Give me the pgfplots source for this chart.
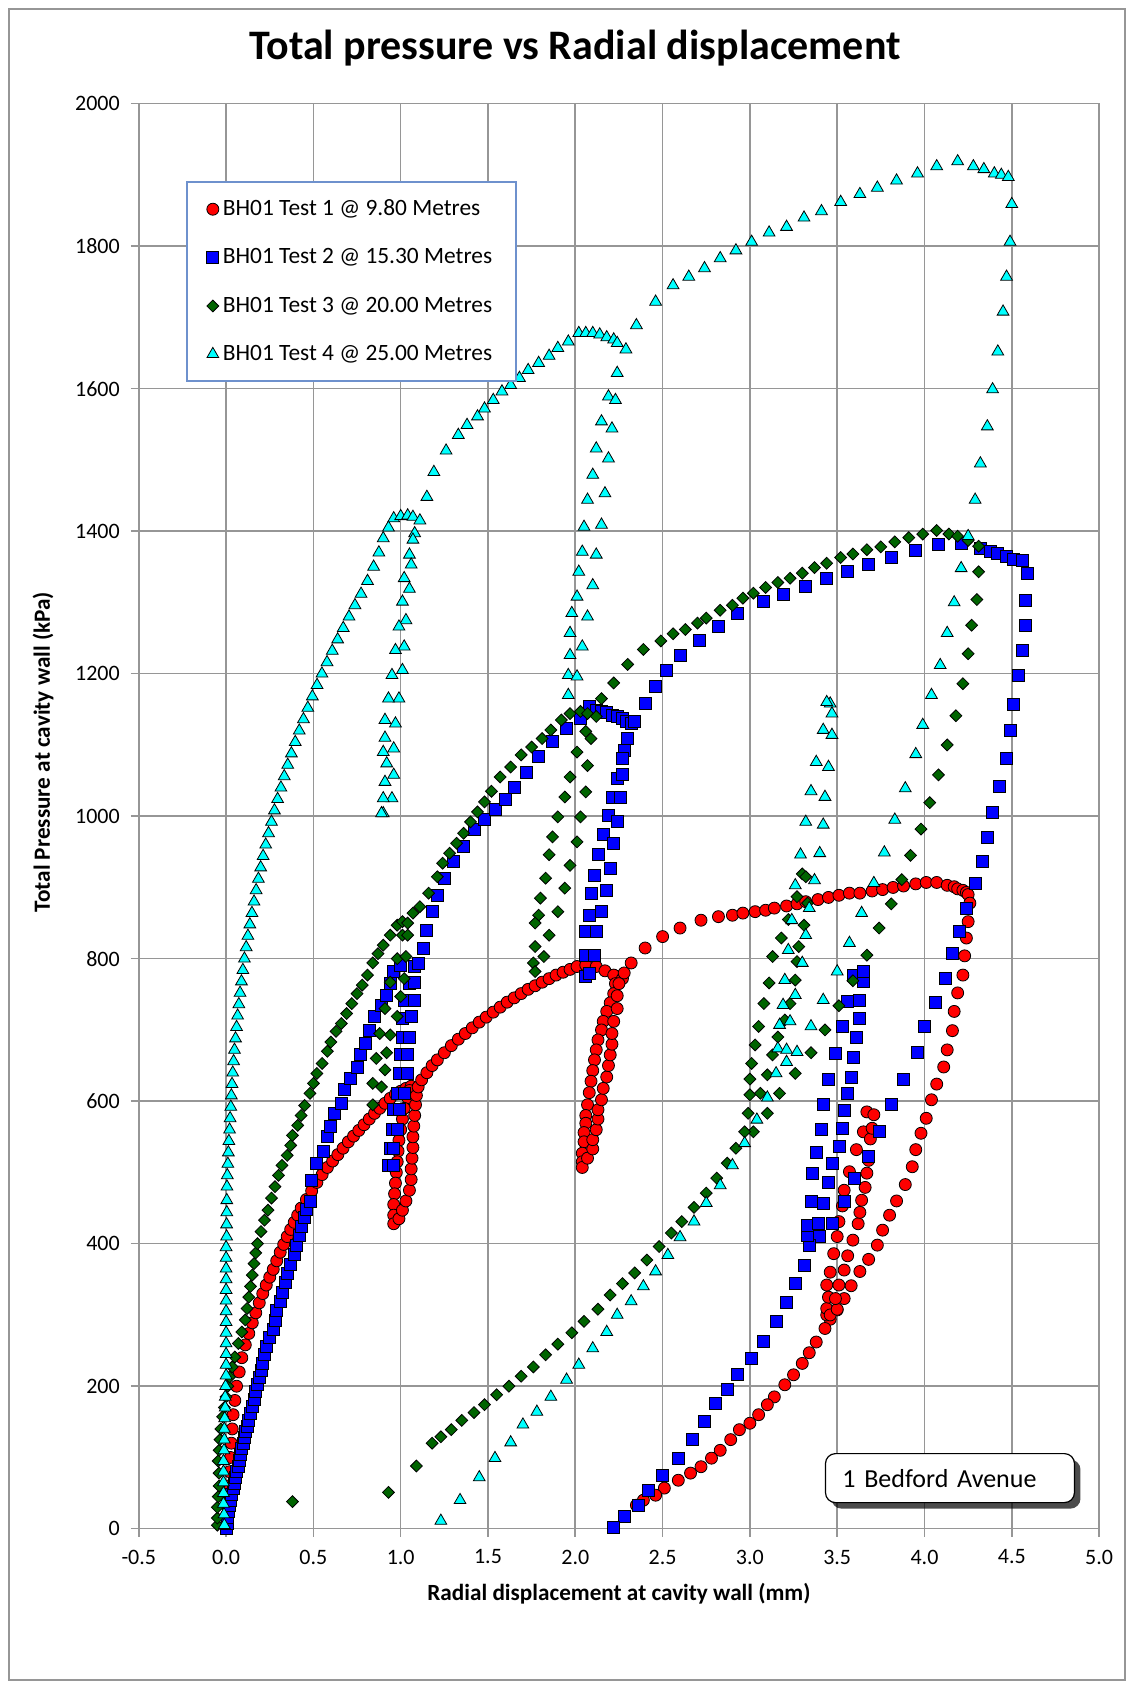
\documentclass[border=0pt]{standalone}
\usepackage{pgfplots}
\pgfplotsset{compat=1.18}
\usepackage{fontspec}
\setmainfont{Carlito}
\usetikzlibrary{shadows}
\definecolor{cyanA}{RGB}{0,255,255}
\definecolor{greenA}{RGB}{0,100,0}
\definecolor{gridgray}{RGB}{150,150,150}
\definecolor{legblue}{RGB}{110,145,205}
\begin{document}
\begin{tikzpicture}
\path (0pt,0pt) rectangle (566.5pt,844pt);
\draw[gridgray, line width=1pt] (4.5pt,4pt) rectangle (562.5pt,839.5pt);
\node[font=\fontsize{21}{25}\selectfont\bfseries] at (287.5pt,820pt) {Total pressure vs Radial displacement};
\begin{axis}[
  at={(69.4pt,79.65pt)}, anchor=south west,
  scale only axis, width=480.15pt, height=712.5pt,
  xmin=-0.5, xmax=5, ymin=0, ymax=2000,
  clip=false,
  xtick={-0.5,0,0.5,1,1.5,2,2.5,3,3.5,4,4.5,5},
  xticklabels={-0.5,0.0,0.5,1.0,1.5,2.0,2.5,3.0,3.5,4.0,4.5,5.0},
  ytick={0,200,400,600,800,1000,1200,1400,1600,1800,2000},
  yticklabels={0,200,400,600,800,1000,1200,1400,1600,1800,2000},
  grid=major,
  grid style={gridgray, line width=0.8pt},
  axis line style={gridgray, line width=0.8pt},
  tick style={gridgray, line width=0.8pt},
  tick align=outside, tick pos=left, major tick length=4pt,
  ticklabel style={font=\fontsize{11}{13}\selectfont},
  yticklabel style={xshift=-2pt},
  xticklabel style={yshift=-3pt},
  xlabel={Radial displacement at cavity wall (mm)},
  ylabel={Total Pressure at cavity wall (kPa)},
  label style={font=\fontsize{11.6}{13}\selectfont\bfseries},
  xlabel style={at={(axis description cs:0.5,-0.0459)}, anchor=center},
  ylabel style={at={(axis description cs:-0.0998,0.545)}, anchor=center},
  legend style={at={(axis description cs:0.0492,0.9458)}, anchor=north west,
    draw=legblue, line width=0.8pt, font=\fontsize{11.7}{14}\selectfont,
    row sep=11pt, inner xsep=10pt, inner ysep=7pt, cells={anchor=west}},
  legend image code/.code={\draw[mark repeat=2,mark phase=2,#1] plot coordinates {(0cm,0cm) (0.12cm,0cm) (0.24cm,0cm)};},
]
% Test 1
\addplot[only marks, mark=*, mark size=3pt, mark options={fill=red, draw=black, line width=0.4pt}] coordinates {
(0.01,40) (0.015,60) (0.02,80) (0.025,100) (0.03,120) (0.035,140) (0.04,160) (0.05,180) (0.06,200) (0.075,220) (0.09,240) (0.11,258) (0.13,274) (0.15,289) (0.17,303) (0.19,317) (0.21,330) (0.23,342) (0.25,353) (0.27,364) (0.29,376) (0.31,388) (0.33,399) (0.35,410) (0.37,420) (0.39,430) (0.41,440) (0.43,450) (0.46,462) (0.49,474) (0.52,486) (0.55,497) (0.58,507) (0.61,516) (0.64,525) (0.67,534) (0.70,543) (0.73,551) (0.76,559) (0.79,567) (0.82,575) (0.85,583) (0.88,590) (0.91,597) (0.94,604) (0.97,610) (1.00,614) (1.03,618) (1.06,621)
(1.05,615) (1.04,605) (1.02,590) (1.01,575) (1.00,560) (0.99,545) (0.985,530) (0.98,515) (0.975,500) (0.97,485) (0.965,470) (0.96,455) (0.96,440) (0.96,428)
(0.99,435) (1.01,447) (1.03,460) (1.05,475) (1.06,490) (1.06,505) (1.065,520) (1.07,535) (1.07,550) (1.075,565) (1.08,580) (1.085,595) (1.09,608) (1.10,620) (1.12,630)
(1.15,640) (1.18,650) (1.21,658) (1.25,668) (1.29,678) (1.33,687) (1.37,695) (1.41,703) (1.45,711) (1.49,718) (1.53,725) (1.57,732) (1.61,739) (1.65,745) (1.69,751) (1.73,757) (1.77,762) (1.81,767) (1.85,772) (1.89,777) (1.93,781) (1.97,785) (2.01,789) (2.06,791) (2.12,789) (2.17,783) (2.22,777) (2.27,772)
(2.23,765) (2.22,751) (2.20,738) (2.18,726) (2.16,712) (2.15,700) (2.13,686) (2.12,672) (2.11,658) (2.10,643) (2.09,628) (2.08,612) (2.07,595) (2.06,580) (2.06,569) (2.05,556) (2.05,543) (2.04,527) (2.04,515) (2.04,507)
(2.07,520) (2.10,533) (2.10,546) (2.12,560) (2.13,575) (2.13,588) (2.15,602) (2.16,618) (2.18,634) (2.19,650) (2.20,665) (2.21,680) (2.21,695) (2.22,712) (2.24,730) (2.24,748) (2.25,765) (2.28,780)
(2.32,794) (2.40,815) (2.50,831) (2.60,843) (2.72,854) (2.82,859) (2.90,861) (2.96,864) (3.03,866) (3.09,868) (3.14,871) (3.21,874) (3.27,877) (3.32,880) (3.39,883) (3.45,886) (3.51,889) (3.57,892) (3.63,892) (3.70,895) (3.76,897) (3.82,900) (3.88,902) (3.95,905) (4.01,907) (4.07,907) (4.13,903) (4.17,901) (4.19,898) (4.22,896) (4.24,893)
(4.25,890) (4.26,878) (4.25,852) (4.24,829) (4.23,804) (4.22,777) (4.19,752) (4.17,726) (4.16,699) (4.13,672) (4.11,648) (4.07,624) (4.04,602) (4.01,576) (3.98,555) (3.95,532) (3.93,508) (3.89,483) (3.84,460) (3.80,440) (3.76,419) (3.73,398) (3.68,378) (3.63,361) (3.58,341) (3.54,323) (3.50,307) (3.46,294) (3.43,281) (3.38,262) (3.34,247) (3.30,232) (3.25,216) (3.20,202) (3.14,185) (3.10,174) (3.05,160) (3.00,148) (2.94,139) (2.89,125) (2.83,110) (2.78,99) (2.72,87) (2.66,78) (2.59,68) (2.51,57) (2.46,47) (2.39,40) (2.35,33)
(3.44,300) (3.44,309) (3.45,325) (3.44,342) (3.46,360) (3.48,386) (3.50,410) (3.51,431) (3.53,453) (3.54,475) (3.57,501) (3.61,532) (3.65,557) (3.67,585)
(3.46,300) (3.50,308) (3.49,323) (3.51,342) (3.54,363) (3.56,383) (3.59,405) (3.62,428) (3.63,444) (3.64,461) (3.66,479) (3.67,499) (3.68,517) (3.69,547) (3.70,562) (3.71,581)
};
\addlegendentry{BH01 Test 1 @ 9.80 Metres}
% Test 2
\addplot[only marks, mark=square*, mark size=3pt, mark options={fill=blue, draw=black, line width=0.4pt}] coordinates {
(0.0,0) (0.005,8) (0.01,16) (0.015,24) (0.02,32) (0.025,40) (0.03,48) (0.04,56) (0.05,64) (0.055,72) (0.06,80) (0.07,88) (0.075,96) (0.08,104) (0.09,112) (0.10,120) (0.105,128) (0.11,136) (0.12,144) (0.13,152) (0.14,162) (0.15,172) (0.16,182) (0.17,192) (0.18,202) (0.19,212) (0.20,222) (0.21,232) (0.22,244) (0.23,256) (0.25,268) (0.27,280) (0.28,293) (0.29,306) (0.31,319) (0.32,332) (0.34,345) (0.35,358) (0.37,371) (0.39,385) (0.40,398) (0.42,411) (0.43,424) (0.45,437) (0.46,448) (0.48,460)
(0.49,489) (0.52,513) (0.56,529) (0.58,550) (0.60,564) (0.62,583) (0.66,597) (0.68,616) (0.71,632) (0.75,648) (0.77,665) (0.80,681) (0.82,700) (0.85,719) (0.89,735) (0.92,749) (0.94,765) (0.96,782) (1.00,790)
(0.93,510) (0.94,534) (0.95,560) (0.96,588) (0.98,611) (0.99,639) (1.00,665) (1.01,690) (1.01,716) (1.02,742) (1.05,765) (1.08,789)
(1.10,794) (1.08,767) (1.08,742) (1.06,719) (1.05,690) (1.04,665) (1.04,639) (1.02,611) (0.99,588) (0.98,560) (0.96,534) (0.96,510)
(1.13,815) (1.15,840) (1.18,866) (1.21,889) (1.25,913) (1.30,936) (1.36,957) (1.42,981) (1.48,995) (1.54,1009) (1.60,1023) (1.65,1041) (1.72,1062) (1.79,1084) (1.87,1105) (1.95,1123) (2.03,1137) (2.08,1154)
(2.12,1149) (2.15,1147) (2.18,1145) (2.21,1142) (2.24,1140) (2.27,1137) (2.29,1133) (2.32,1130)
(2.30,1109) (2.28,1093) (2.27,1081) (2.24,1053) (2.21,1027) (2.19,1001) (2.16,974) (2.13,946) (2.11,917) (2.09,891) (2.08,861) (2.06,838) (2.06,805) (2.06,775)
(2.08,780) (2.11,805) (2.12,838) (2.15,866) (2.18,896) (2.20,927) (2.22,962) (2.24,992) (2.26,1027) (2.27,1059) (2.34,1133)
(2.40,1158) (2.46,1182) (2.52,1204) (2.60,1225) (2.71,1247) (2.82,1267) (2.93,1285) (3.08,1301) (3.19,1311) (3.32,1323) (3.44,1334) (3.56,1343) (3.68,1353) (3.81,1363) (3.95,1373) (4.08,1382) (4.21,1383) (4.32,1376) (4.38,1371) (4.42,1369) (4.47,1364) (4.51,1361) (4.56,1359) (4.59,1341)
(4.58,1303) (4.58,1268) (4.56,1233) (4.54,1197) (4.51,1157) (4.49,1120) (4.47,1081) (4.43,1042) (4.39,1005) (4.36,970) (4.33,936) (4.29,905) (4.24,871) (4.20,838) (4.16,808) (4.12,772) (4.06,738) (4.00,705) (3.96,669) (3.88,631) (3.81,595) (3.74,557) (3.68,522) (3.60,492) (3.54,459) (3.47,429) (3.40,410) (3.34,398) (3.31,369) (3.26,344) (3.21,317) (3.15,291) (3.08,263) (3.01,239) (2.93,216) (2.87,195) (2.80,176) (2.74,151) (2.67,125) (2.59,99) (2.50,75) (2.42,54) (2.36,33) (2.28,17) (2.22,2)
(3.33,412) (3.33,425) (3.35,459) (3.36,498) (3.38,528) (3.41,560) (3.42,595) (3.45,631) (3.49,667) (3.53,705) (3.56,740) (3.59,777)
(3.39,428) (3.42,457) (3.45,486) (3.47,513) (3.51,537) (3.53,562) (3.54,587) (3.56,611) (3.58,634) (3.59,662) (3.61,690) (3.63,716) (3.63,741) (3.65,768) (3.65,782)
};
\addlegendentry{BH01 Test 2 @ 15.30 Metres}
% Test 3
\addplot[only marks, mark=square*, mark size=2.1pt, mark options={fill=greenA, draw=black, line width=0.4pt, rotate=45}] coordinates {
(-0.05,5) (-0.05,15) (-0.05,30) (-0.045,45) (-0.04,60) (-0.04,78) (-0.045,95) (-0.04,110) (-0.035,125) (-0.03,140) (-0.02,157) (-0.01,170) (0.0,185) (0.01,200) (0.02,213) (0.035,227) (0.05,241) (0.07,260) (0.09,276) (0.11,293) (0.12,309) (0.13,325) (0.14,340) (0.15,356) (0.16,372) (0.17,387) (0.18,400) (0.20,417) (0.22,433) (0.24,447) (0.26,464) (0.28,480) (0.30,496) (0.32,510) (0.35,524) (0.37,538) (0.38,552) (0.41,566) (0.43,580) (0.45,594) (0.48,611) (0.50,625) (0.52,639) (0.55,653) (0.58,670) (0.60,683) (0.63,698) (0.66,709) (0.69,723) (0.72,737) (0.75,751) (0.78,763) (0.81,777) (0.84,794) (0.87,807) (0.90,819) (0.94,833) (0.98,847) (1.01,852) (1.04,850)
(1.01,833) (0.98,800) (0.94,767) (0.91,730) (0.88,695) (0.86,660) (0.84,625) (0.84,595)
(0.89,620) (0.91,644) (0.92,668) (0.94,693) (0.98,719) (1.00,747) (1.02,772) (1.03,803) (1.04,833)
(1.07,864) (1.11,873) (1.16,892) (1.21,915) (1.24,934) (1.28,948) (1.32,962) (1.36,976) (1.40,992) (1.44,1006) (1.48,1020) (1.52,1035) (1.57,1055) (1.63,1069) (1.69,1086) (1.75,1097) (1.81,1109) (1.86,1121) (1.92,1135) (1.97,1144) (2.03,1147) (2.07,1144)
(2.06,1119) (2.01,1090) (1.97,1055) (1.94,1027) (1.90,999) (1.87,971) (1.85,946) (1.83,913) (1.80,885) (1.79,861) (1.77,850) (1.77,817) (1.76,794) (1.77,782)
(1.82,803) (1.85,833) (1.90,866) (1.94,899) (1.97,931) (2.01,964) (2.03,999) (2.06,1034) (2.07,1071) (2.09,1109) (2.12,1140)
(2.15,1165) (2.22,1187) (2.30,1213) (2.39,1234) (2.49,1246) (2.56,1256) (2.63,1262) (2.70,1271) (2.75,1278) (2.83,1289) (2.90,1296) (2.96,1306) (3.02,1313) (3.09,1321) (3.16,1328) (3.23,1334) (3.30,1341) (3.37,1349) (3.44,1355) (3.52,1363) (3.59,1368) (3.67,1374) (3.75,1378) (3.83,1385) (3.91,1391) (3.99,1396) (4.07,1401) (4.14,1396) (4.19,1393) (4.25,1387) (4.31,1379)
(4.31,1343) (4.30,1304) (4.27,1268) (4.25,1228) (4.22,1186) (4.18,1141) (4.13,1100) (4.08,1058) (4.03,1019) (3.98,982) (3.92,945) (3.87,911) (3.81,877) (3.74,843) (3.67,805) (3.59,769) (3.51,734) (3.43,700) (3.35,668) (3.26,639) (3.17,611) (3.10,583) (3.02,557) (2.92,534) (2.87,513) (2.81,492) (2.75,471) (2.68,451) (2.61,431) (2.55,415) (2.48,396) (2.41,377) (2.34,359) (2.27,344) (2.20,328) (2.13,308) (2.05,291) (1.98,275) (1.90,259) (1.83,244) (1.76,227) (1.69,214) (1.62,200) (1.55,188) (1.48,174) (1.42,163) (1.35,152) (1.29,139) (1.23,129) (1.18,120) (1.09,88) (0.93,51) (0.38,38)
(2.97,557) (2.99,583) (3.00,609) (3.00,631) (3.01,653) (3.03,679) (3.05,705) (3.08,737) (3.11,766) (3.13,803) (3.18,829) (3.22,855) (3.30,919)
(3.06,611) (3.10,637) (3.13,665) (3.16,690) (3.20,714) (3.23,737) (3.26,770) (3.27,796) (3.28,817) (3.31,847) (3.33,878) (3.27,887) (3.32,915)
};
\addlegendentry{BH01 Test 3 @ 20.00 Metres}
% Test 4
\addplot[only marks, mark=triangle*, mark size=3.4pt, mark options={fill=cyanA, draw=black, line width=0.4pt}] coordinates {
(-0.01,5) (-0.012,20) (-0.015,35) (-0.015,50) (-0.015,65) (-0.015,80) (-0.015,95) (-0.012,110) (-0.01,125) (-0.01,140) (-0.008,155) (-0.005,170) (-0.005,185) (-0.003,200) (0.0,215) (0.0,230) (0.0,245) (0.0,260) (0.0,275) (0.0,290) (0.0,305) (0.0,320) (0.0,335) (0.0,350) (0.0,365) (0.0,380) (0.0,395) (0.003,410) (0.003,427) (0.004,444) (0.004,461)
(0.005,480) (0.007,496) (0.01,512) (0.013,528) (0.016,544) (0.02,560) (0.023,576) (0.027,592) (0.03,608) (0.034,624) (0.038,640) (0.043,656) (0.048,672) (0.054,688) (0.06,704) (0.066,720) (0.073,736) (0.08,752) (0.088,768) (0.096,784) (0.105,800) (0.115,816) (0.125,832) (0.136,848) (0.148,864) (0.16,880) (0.172,896) (0.185,912) (0.198,928) (0.212,944) (0.227,960) (0.243,976) (0.26,992) (0.277,1008) (0.295,1024) (0.314,1040) (0.333,1056) (0.353,1072) (0.374,1088) (0.396,1104) (0.419,1120) (0.443,1136) (0.468,1152) (0.494,1168) (0.521,1184) (0.549,1200) (0.578,1216) (0.608,1232) (0.639,1248) (0.671,1264) (0.704,1280) (0.738,1296) (0.773,1312) (0.81,1330) (0.845,1350) (0.875,1370) (0.90,1390) (0.93,1405) (0.96,1418) (1.00,1421) (1.04,1422) (1.07,1420) (1.11,1415)
(1.08,1397) (1.07,1388) (1.05,1367) (1.06,1353) (1.05,1319) (1.03,1275) (1.02,1238) (1.01,1205) (0.99,1165) (0.97,1130) (0.96,1095) (0.96,1058) (0.95,1025) (0.90,1004)
(0.89,1004) (0.90,1025) (0.91,1048) (0.92,1074) (0.90,1090) (0.91,1110) (0.91,1135) (0.93,1165) (0.95,1198) (0.97,1233) (0.99,1266) (1.01,1301) (1.02,1334)
(1.15,1448) (1.19,1483) (1.26,1513) (1.33,1535) (1.38,1549) (1.44,1561) (1.48,1572) (1.53,1584) (1.58,1596) (1.63,1605) (1.68,1615) (1.73,1626) (1.79,1636) (1.85,1646) (1.90,1657) (1.96,1666) (2.02,1678) (2.06,1678) (2.10,1678) (2.14,1676) (2.18,1672) (2.22,1669) (2.24,1664) (2.29,1655)
(2.24,1622) (2.19,1589) (2.15,1554) (2.12,1516) (2.10,1479) (2.07,1444) (2.05,1406) (2.04,1371) (2.02,1343) (2.01,1308) (1.98,1285) (1.97,1257) (1.97,1226) (1.96,1198) (1.96,1170)
(2.01,1196) (2.04,1238) (2.07,1280) (2.10,1324) (2.12,1367) (2.15,1409) (2.17,1453) (2.19,1502) (2.21,1544) (2.23,1584)
(2.35,1689) (2.46,1722) (2.56,1745) (2.65,1757) (2.74,1769) (2.83,1783) (2.92,1794) (3.01,1806) (3.11,1819) (3.21,1827) (3.31,1840) (3.41,1849) (3.52,1862) (3.63,1873) (3.73,1882) (3.84,1892) (3.96,1902) (4.07,1912) (4.19,1919) (4.28,1912) (4.34,1908) (4.40,1902) (4.44,1900) (4.48,1897)
(4.50,1859) (4.49,1806) (4.47,1757) (4.45,1708) (4.42,1652) (4.39,1599) (4.36,1547) (4.32,1495) (4.29,1444) (4.25,1393) (4.21,1348) (4.17,1300) (4.13,1257) (4.09,1212) (4.04,1170) (3.99,1128) (3.95,1087) (3.89,1039) (3.83,995) (3.77,949) (3.71,906) (3.64,864) (3.57,822) (3.50,782) (3.42,742) (3.35,705) (3.27,669) (3.21,655) (3.15,639) (3.10,605) (3.04,574) (2.97,541) (2.90,510) (2.83,482) (2.75,457) (2.68,431) (2.60,409) (2.53,384) (2.46,361) (2.39,340) (2.32,319) (2.24,300) (2.18,276) (2.10,253) (2.02,230) (1.95,209) (1.86,185) (1.78,164) (1.70,146) (1.63,121) (1.54,99) (1.45,72) (1.34,40) (1.23,11)
(3.16,674) (3.17,707) (3.19,735) (3.20,770) (3.22,812) (3.24,854) (3.26,903) (3.29,946) (3.32,992) (3.35,1035) (3.38,1076) (3.42,1121) (3.46,1158)
(3.21,672) (3.23,712) (3.26,749) (3.30,794) (3.32,833) (3.34,871) (3.37,910) (3.40,948) (3.42,988) (3.43,1027) (3.45,1069) (3.47,1114) (3.47,1144) (3.44,1160)
};
\addlegendentry{BH01 Test 4 @ 25.00 Metres}
\node[draw=black, line width=0.6pt, fill=white, rounded corners=5pt,
  drop shadow={shadow xshift=3pt, shadow yshift=-3pt, opacity=0.7, fill=black},
  minimum height=24.5pt, text width=107.5pt, inner xsep=8.5pt, align=left,
  font=\fontsize{13}{15}\selectfont] at (axis cs:4.146,71) {1 Bedford Avenue};
\end{axis}
\end{tikzpicture}
\end{document}
